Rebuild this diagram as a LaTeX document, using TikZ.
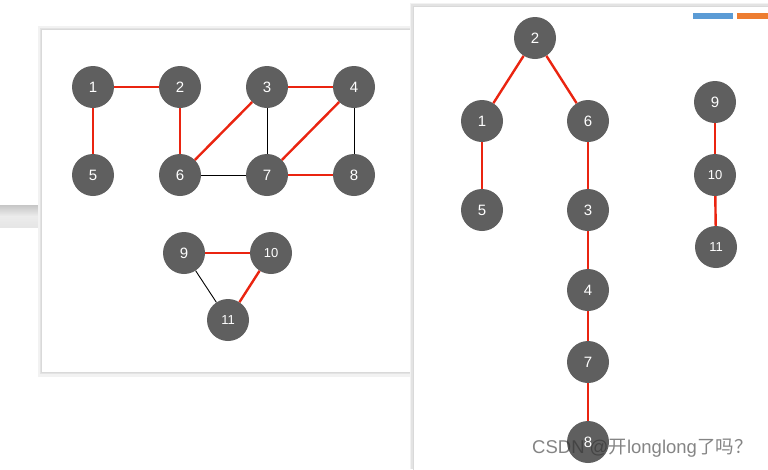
\documentclass[tikz,border=0pt]{standalone}
\usepackage{fontspec}
\setmainfont{Liberation Sans}
\newfontfamily\cjk{Noto Sans CJK SC}
\begin{document}
\begin{tikzpicture}[x=1pt,y=-1pt,
  vtx/.style={circle,fill=nodegray,minimum size=42pt,inner sep=0pt,text=white,font=\fontsize{15}{15}\selectfont},
  vtxs/.style={vtx,font=\fontsize{13}{13}\selectfont},
  redge/.style={draw=edgered,line width=2.4pt},
  bedge/.style={draw=black,line width=0.9pt},
  panel/.style={fill=white,draw=gray!30,line width=0.5pt},
  pshadow/.style={fill=gray!22}]
\definecolor{nodegray}{HTML}{5F5F5F}
\definecolor{edgered}{HTML}{EA2410}
\definecolor{barblue}{HTML}{5B9BD5}
\definecolor{barorange}{HTML}{ED7D31}
\useasboundingbox (0,0) rectangle (768,469);
\fill[white] (0,0) rectangle (768,469);
% background grey bar
\shade[top color=gray!45,bottom color=gray!20,middle color=gray!15] (0,205) rectangle (768,227);
% left panel
\fill[gray!10] (38,26) rectangle (413,377);
\fill[pshadow] (40,28) rectangle (412,374);
\draw[panel] (41,29) rectangle (410,372);
% right panel
\fill[gray!10] (410,3) rectangle (768,469);
\fill[pshadow] (411,4) rectangle (768,469);
\fill[white,draw=gray!30,line width=0.5pt] (413,6) rectangle (768,470);
% bars
\fill[barblue] (693,13) rectangle (733,19);
\fill[barorange] (737,13) rectangle (768,19);
% left graph nodes
\node[vtx] (L1) at (93,87) {1};
\node[vtx] (L2) at (180,87) {2};
\node[vtx] (L3) at (267,87) {3};
\node[vtx] (L4) at (354,87) {4};
\node[vtx] (L5) at (93,175) {5};
\node[vtx] (L6) at (180,175) {6};
\node[vtx] (L7) at (267,175) {7};
\node[vtx] (L8) at (354,175) {8};
\node[vtx] (L9) at (184,253) {9};
\node[vtxs] (L10) at (271,253) {10};
\node[vtxs] (L11) at (228,320) {11};
\path[redge] (L1) -- (L2);
\path[redge] (L1) -- (L5);
\path[redge] (L2) -- (L6);
\path[redge] (L3) -- (L6);
\path[redge] (L3) -- (L4);
\path[bedge] (L3) -- (L7);
\path[redge] (L4) -- (L7);
\path[bedge] (L4) -- (L8);
\path[bedge] (L6) -- (L7);
\path[redge] (L7) -- (L8);
\path[redge] (L9) -- (L10);
\path[bedge] (L9) -- (L11);
\path[redge] (L10) -- (L11);
% right graph nodes
\node[vtx] (R2) at (535,38) {2};
\node[vtx] (R1) at (482,121) {1};
\node[vtx] (R6) at (588,121) {6};
\node[vtx] (R5) at (482,210) {5};
\node[vtx] (R3) at (588,210) {3};
\node[vtx] (R4) at (588,290) {4};
\node[vtx] (R7) at (588,362) {7};
\node[vtx] (R8) at (588,442) {8};
\node[vtx] (R9) at (715,102) {9};
\node[vtxs] (R10) at (715,175) {10};
\node[vtxs] (R11) at (716,247) {11};
\path[redge] (R2) -- (R1);
\path[redge] (R2) -- (R6);
\path[redge] (R1) -- (R5);
\path[redge] (R6) -- (R3);
\path[redge] (R3) -- (R4);
\path[redge] (R4) -- (R7);
\path[redge] (R7) -- (R8);
\path[redge] (R9) -- (R10);
\path[redge] (R10) -- (R11);
% watermark
\node[text=gray!40!black,opacity=0.6,font=\fontsize{18.5}{18.5}\selectfont,anchor=west,inner sep=0pt] (wm) at (532,448) {CSDN @{\cjk 开}longlong{\cjk 了吗？}};
\end{tikzpicture}
\end{document}
